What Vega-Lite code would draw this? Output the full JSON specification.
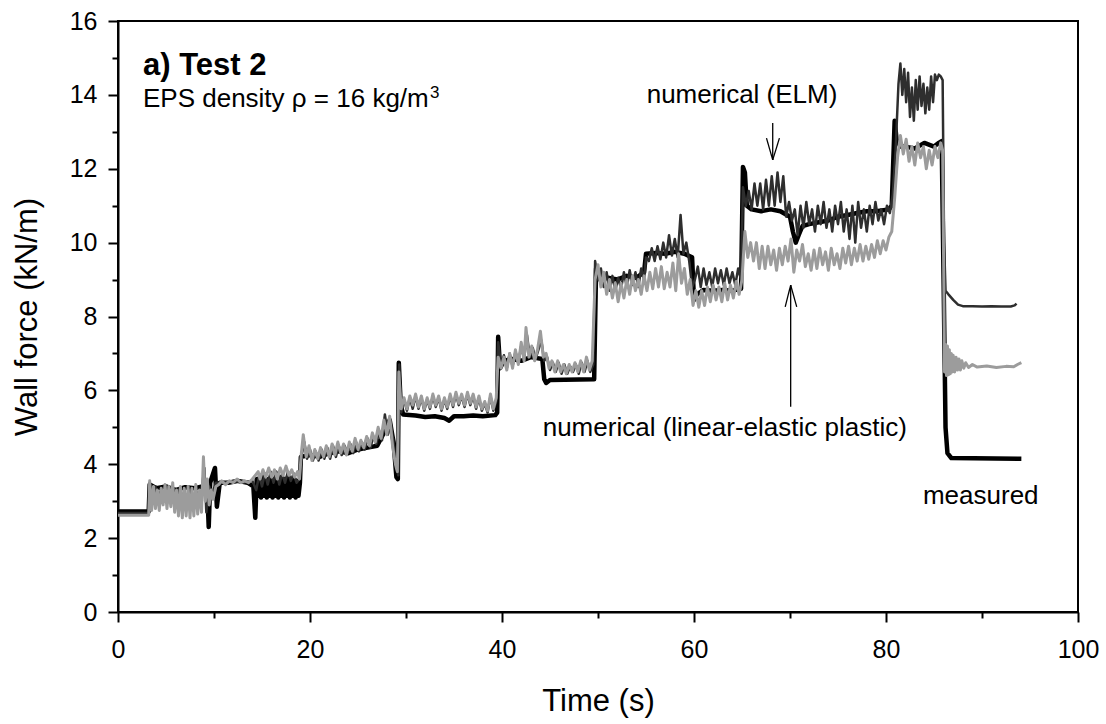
{
  "$schema": "https://vega.github.io/schema/vega-lite/v6.json",
  "width": 960,
  "height": 591,
  "autosize": "none",
  "padding": {"left": 118, "top": 21, "right": 28, "bottom": 112},
  "background": "white",
  "config": {
    "view": {"stroke": "#000", "strokeWidth": 2},
    "font": "Liberation Sans",
    "axis": {
      "grid": false,
      "domainColor": "#000",
      "domainWidth": 2,
      "tickColor": "#000",
      "tickWidth": 2,
      "labelColor": "#000",
      "labelFont": "Liberation Sans",
      "labelFontSize": 25,
      "labelOverlap": false,
      "labelFlush": false,
      "titleColor": "#000",
      "titleFont": "Liberation Sans",
      "titleFontSize": 31,
      "titleFontWeight": "normal"
    }
  },
  "datasets": {
    "measured": [
      {"t":0,"v":2.72},{"t":3.2,"v":2.72},{"t":3.3,"v":3.45},{"t":4,"v":3.35},{"t":5,"v":3.4},{"t":6,"v":3.3},{"t":7,"v":3.38},{"t":8,"v":3.35},{"t":8.8,"v":3.4},{"t":9.3,"v":3.3},{"t":9.45,"v":2.3},{"t":9.6,"v":3.5},{"t":10.1,"v":3.9},{"t":10.3,"v":2.85},{"t":10.6,"v":3.5},{"t":11.5,"v":3.5},{"t":12.5,"v":3.55},{"t":13.5,"v":3.5},{"t":14.1,"v":3.4},{"t":14.3,"v":2.55},{"t":14.45,"v":3.6},{"t":14.6,"v":3.15},{"t":14.75,"v":3.6},{"t":14.9,"v":3.1},{"t":15.05,"v":3.65},{"t":15.2,"v":3.15},{"t":15.35,"v":3.6},{"t":15.5,"v":3.1},{"t":15.65,"v":3.6},{"t":15.8,"v":3.15},{"t":15.95,"v":3.65},{"t":16.1,"v":3.1},{"t":16.25,"v":3.6},{"t":16.4,"v":3.15},{"t":16.55,"v":3.6},{"t":16.7,"v":3.1},{"t":16.85,"v":3.65},{"t":17.0,"v":3.15},{"t":17.15,"v":3.6},{"t":17.3,"v":3.1},{"t":17.45,"v":3.6},{"t":17.6,"v":3.15},{"t":17.75,"v":3.65},{"t":17.9,"v":3.1},{"t":18.05,"v":3.6},{"t":18.2,"v":3.15},{"t":18.35,"v":3.6},{"t":18.5,"v":3.1},{"t":18.65,"v":3.55},{"t":18.8,"v":3.15},{"t":18.95,"v":3.5},{"t":19.05,"v":4.2},{"t":20,"v":4.25},{"t":21,"v":4.2},{"t":22,"v":4.3},{"t":23,"v":4.35},{"t":24,"v":4.3},{"t":25,"v":4.4},{"t":26,"v":4.45},{"t":27,"v":4.5},{"t":27.8,"v":4.9},{"t":28.3,"v":5.2},{"t":28.7,"v":4.6},{"t":29.0,"v":3.65},{"t":29.15,"v":3.6},{"t":29.25,"v":6.75},{"t":29.45,"v":5.6},{"t":29.7,"v":5.35},{"t":31,"v":5.32},{"t":32,"v":5.28},{"t":33,"v":5.3},{"t":34,"v":5.25},{"t":34.5,"v":5.18},{"t":35,"v":5.3},{"t":36,"v":5.3},{"t":37,"v":5.32},{"t":38,"v":5.3},{"t":39.3,"v":5.33},{"t":39.5,"v":5.4},{"t":39.6,"v":7.45},{"t":39.8,"v":6.6},{"t":40.2,"v":6.8},{"t":41,"v":6.85},{"t":42,"v":6.8},{"t":43,"v":6.9},{"t":44.2,"v":6.85},{"t":44.4,"v":6.3},{"t":44.6,"v":6.2},{"t":45,"v":6.28},{"t":49.6,"v":6.3},{"t":49.8,"v":9.3},{"t":50.2,"v":9.0},{"t":51,"v":9.05},{"t":52,"v":9.0},{"t":53,"v":9.1},{"t":54,"v":9.05},{"t":54.8,"v":9.2},{"t":55.0,"v":9.7},{"t":56,"v":9.72},{"t":57,"v":9.7},{"t":58,"v":9.75},{"t":59,"v":9.7},{"t":59.8,"v":9.6},{"t":60.0,"v":8.45},{"t":60.3,"v":8.6},{"t":61,"v":8.72},{"t":62,"v":8.7},{"t":63,"v":8.72},{"t":64,"v":8.7},{"t":64.9,"v":8.75},{"t":65.1,"v":12.05},{"t":65.3,"v":11.9},{"t":65.5,"v":11.0},{"t":66,"v":10.9},{"t":67,"v":10.85},{"t":68,"v":10.9},{"t":69,"v":10.85},{"t":70,"v":10.7},{"t":70.3,"v":10.3},{"t":70.6,"v":10.0},{"t":70.9,"v":10.2},{"t":71.3,"v":10.45},{"t":72,"v":10.5},{"t":73,"v":10.55},{"t":74,"v":10.6},{"t":75,"v":10.7},{"t":76,"v":10.75},{"t":77,"v":10.8},{"t":78,"v":10.85},{"t":79,"v":10.85},{"t":80.3,"v":10.9},{"t":80.6,"v":11.0},{"t":80.9,"v":13.3},{"t":81.1,"v":12.8},{"t":81.5,"v":12.6},{"t":82,"v":12.6},{"t":83,"v":12.55},{"t":84,"v":12.7},{"t":85,"v":12.6},{"t":85.5,"v":12.7},{"t":85.8,"v":12.75},{"t":86.0,"v":9.0},{"t":86.2,"v":5.0},{"t":86.4,"v":4.3},{"t":86.8,"v":4.17},{"t":94.1,"v":4.15}
    ],
    "elm": [
      {"t":0,"v":2.68},{"t":3.2,"v":2.68},{"t":3.3,"v":3.5},{"t":3.6,"v":3.0},{"t":3.9,"v":3.4},{"t":4.2,"v":2.95},{"t":4.5,"v":3.35},{"t":4.8,"v":3.0},{"t":5.1,"v":3.4},{"t":5.4,"v":2.95},{"t":5.7,"v":3.4},{"t":6.0,"v":2.9},{"t":6.3,"v":3.3},{"t":6.6,"v":2.85},{"t":6.9,"v":3.3},{"t":7.2,"v":2.9},{"t":7.5,"v":3.3},{"t":7.8,"v":2.85},{"t":8.1,"v":3.35},{"t":8.4,"v":2.9},{"t":8.7,"v":3.3},{"t":9.0,"v":3.9},{"t":9.2,"v":2.7},{"t":9.5,"v":3.4},{"t":9.8,"v":3.2},{"t":10.2,"v":3.5},{"t":11,"v":3.5},{"t":12,"v":3.55},{"t":13,"v":3.5},{"t":14,"v":3.55},{"t":14.4,"v":3.3},{"t":14.7,"v":3.7},{"t":15.0,"v":3.4},{"t":15.3,"v":3.75},{"t":15.6,"v":3.45},{"t":15.9,"v":3.8},{"t":16.2,"v":3.5},{"t":16.5,"v":3.8},{"t":16.8,"v":3.45},{"t":17.1,"v":3.75},{"t":17.4,"v":3.5},{"t":17.7,"v":3.8},{"t":18.0,"v":3.55},{"t":18.3,"v":3.75},{"t":18.6,"v":3.5},{"t":18.9,"v":3.6},{"t":19.1,"v":4.2},{"t":19.4,"v":4.6},{"t":19.7,"v":4.15},{"t":20.0,"v":4.4},{"t":20.3,"v":4.1},{"t":20.6,"v":4.35},{"t":20.9,"v":4.1},{"t":21.2,"v":4.4},{"t":21.5,"v":4.15},{"t":21.8,"v":4.45},{"t":22.1,"v":4.15},{"t":22.4,"v":4.5},{"t":22.7,"v":4.2},{"t":23.0,"v":4.5},{"t":23.3,"v":4.25},{"t":23.6,"v":4.5},{"t":23.9,"v":4.3},{"t":24.2,"v":4.55},{"t":24.5,"v":4.3},{"t":24.8,"v":4.6},{"t":25.1,"v":4.35},{"t":25.4,"v":4.6},{"t":25.7,"v":4.4},{"t":26.0,"v":4.7},{"t":26.3,"v":4.45},{"t":26.6,"v":4.75},{"t":26.9,"v":4.55},{"t":27.2,"v":4.9},{"t":27.5,"v":4.65},{"t":27.8,"v":5.35},{"t":28.1,"v":4.8},{"t":28.4,"v":5.1},{"t":28.7,"v":4.6},{"t":29.0,"v":3.9},{"t":29.2,"v":3.7},{"t":29.3,"v":6.7},{"t":29.5,"v":5.4},{"t":29.8,"v":5.75},{"t":30.1,"v":5.45},{"t":30.4,"v":5.8},{"t":30.7,"v":5.5},{"t":31.0,"v":5.85},{"t":31.3,"v":5.5},{"t":31.6,"v":5.8},{"t":31.9,"v":5.45},{"t":32.2,"v":5.75},{"t":32.5,"v":5.5},{"t":32.8,"v":5.85},{"t":33.1,"v":5.55},{"t":33.4,"v":5.8},{"t":33.7,"v":5.45},{"t":34.0,"v":5.75},{"t":34.3,"v":5.5},{"t":34.6,"v":5.85},{"t":34.9,"v":5.55},{"t":35.2,"v":5.9},{"t":35.5,"v":5.6},{"t":35.8,"v":5.85},{"t":36.1,"v":5.55},{"t":36.4,"v":5.9},{"t":36.7,"v":5.6},{"t":37.0,"v":5.85},{"t":37.3,"v":5.5},{"t":37.6,"v":5.8},{"t":37.9,"v":5.45},{"t":38.2,"v":5.65},{"t":38.5,"v":5.4},{"t":38.8,"v":5.85},{"t":39.1,"v":5.45},{"t":39.4,"v":5.7},{"t":39.6,"v":7.3},{"t":39.9,"v":6.7},{"t":40.2,"v":6.95},{"t":40.5,"v":6.6},{"t":40.8,"v":7.0},{"t":41.1,"v":6.65},{"t":41.4,"v":7.05},{"t":41.7,"v":6.75},{"t":42.0,"v":7.2},{"t":42.3,"v":6.85},{"t":42.6,"v":7.5},{"t":42.9,"v":6.9},{"t":43.2,"v":7.15},{"t":43.5,"v":6.85},{"t":43.8,"v":7.1},{"t":44.1,"v":7.35},{"t":44.4,"v":6.8},{"t":44.7,"v":6.9},{"t":45.0,"v":6.55},{"t":45.3,"v":6.75},{"t":45.6,"v":6.5},{"t":45.9,"v":6.75},{"t":46.2,"v":6.45},{"t":46.5,"v":6.7},{"t":46.8,"v":6.45},{"t":47.1,"v":6.65},{"t":47.4,"v":6.5},{"t":47.7,"v":6.7},{"t":48.0,"v":6.45},{"t":48.3,"v":6.75},{"t":48.6,"v":6.5},{"t":48.9,"v":6.8},{"t":49.2,"v":6.5},{"t":49.5,"v":6.7},{"t":49.7,"v":9.5},{"t":50.0,"v":9.0},{"t":50.3,"v":9.3},{"t":50.6,"v":8.8},{"t":50.9,"v":9.2},{"t":51.2,"v":8.7},{"t":51.5,"v":9.1},{"t":51.8,"v":8.7},{"t":52.1,"v":9.05},{"t":52.4,"v":8.75},{"t":52.7,"v":9.2},{"t":53.0,"v":8.8},{"t":53.3,"v":9.25},{"t":53.6,"v":8.85},{"t":53.9,"v":9.2},{"t":54.2,"v":8.8},{"t":54.5,"v":9.3},{"t":54.8,"v":9.0},{"t":55.0,"v":9.6},{"t":55.3,"v":9.5},{"t":55.6,"v":9.85},{"t":55.9,"v":9.5},{"t":56.2,"v":9.9},{"t":56.5,"v":9.55},{"t":56.8,"v":10.0},{"t":57.1,"v":9.6},{"t":57.4,"v":10.2},{"t":57.7,"v":9.65},{"t":58.0,"v":10.1},{"t":58.3,"v":9.6},{"t":58.6,"v":10.75},{"t":58.9,"v":9.7},{"t":59.2,"v":10.0},{"t":59.5,"v":9.5},{"t":59.8,"v":8.8},{"t":60.1,"v":9.0},{"t":60.4,"v":9.35},{"t":60.7,"v":8.8},{"t":61.0,"v":9.3},{"t":61.3,"v":8.85},{"t":61.6,"v":9.2},{"t":61.9,"v":8.8},{"t":62.2,"v":9.3},{"t":62.5,"v":8.9},{"t":62.8,"v":9.25},{"t":63.1,"v":8.85},{"t":63.4,"v":9.3},{"t":63.7,"v":8.9},{"t":64.0,"v":9.2},{"t":64.3,"v":8.85},{"t":64.6,"v":9.3},{"t":64.9,"v":9.0},{"t":65.1,"v":11.5},{"t":65.4,"v":11.0},{"t":65.7,"v":11.4},{"t":66.0,"v":10.9},{"t":66.3,"v":11.6},{"t":66.6,"v":11.0},{"t":66.9,"v":11.6},{"t":67.2,"v":10.9},{"t":67.5,"v":11.7},{"t":67.8,"v":11.0},{"t":68.1,"v":11.8},{"t":68.4,"v":11.0},{"t":68.7,"v":11.9},{"t":69.0,"v":11.1},{"t":69.3,"v":11.8},{"t":69.6,"v":10.7},{"t":69.9,"v":11.1},{"t":70.2,"v":10.6},{"t":70.5,"v":10.9},{"t":70.8,"v":10.2},{"t":71.1,"v":11.0},{"t":71.4,"v":10.4},{"t":71.7,"v":11.1},{"t":72.0,"v":10.5},{"t":72.3,"v":10.9},{"t":72.6,"v":10.3},{"t":72.9,"v":11.0},{"t":73.2,"v":10.5},{"t":73.5,"v":11.1},{"t":73.8,"v":10.4},{"t":74.1,"v":10.9},{"t":74.4,"v":10.3},{"t":74.7,"v":11.0},{"t":75.0,"v":10.5},{"t":75.3,"v":11.1},{"t":75.6,"v":10.3},{"t":75.9,"v":10.9},{"t":76.2,"v":10.1},{"t":76.5,"v":11.0},{"t":76.8,"v":10.0},{"t":77.1,"v":11.1},{"t":77.4,"v":10.4},{"t":77.7,"v":10.9},{"t":78.0,"v":10.3},{"t":78.3,"v":11.0},{"t":78.6,"v":10.5},{"t":78.9,"v":11.1},{"t":79.2,"v":10.6},{"t":79.5,"v":10.9},{"t":79.8,"v":10.5},{"t":80.1,"v":11.0},{"t":80.4,"v":10.8},{"t":80.7,"v":11.3},{"t":81.0,"v":12.5},{"t":81.3,"v":14.3},{"t":81.5,"v":14.85},{"t":81.7,"v":14.0},{"t":81.9,"v":14.7},{"t":82.1,"v":13.8},{"t":82.3,"v":14.6},{"t":82.5,"v":13.4},{"t":82.7,"v":14.2},{"t":82.9,"v":13.3},{"t":83.1,"v":14.4},{"t":83.3,"v":13.6},{"t":83.5,"v":14.5},{"t":83.7,"v":13.7},{"t":83.9,"v":14.3},{"t":84.1,"v":13.5},{"t":84.3,"v":14.2},{"t":84.5,"v":13.6},{"t":84.7,"v":14.5},{"t":84.9,"v":13.8},{"t":85.1,"v":14.55},{"t":85.3,"v":14.4},{"t":85.5,"v":14.55},{"t":85.7,"v":14.5},{"t":85.9,"v":14.4},{"t":86.05,"v":10.0},{"t":86.2,"v":8.7},{"t":86.5,"v":8.6},{"t":87.0,"v":8.45},{"t":87.5,"v":8.32},{"t":88,"v":8.28},{"t":89,"v":8.28},{"t":90,"v":8.27},{"t":91,"v":8.28},{"t":92,"v":8.27},{"t":93,"v":8.27},{"t":93.4,"v":8.3},{"t":93.6,"v":8.35}
    ],
    "lep": [
      {"t":0,"v":2.62},{"t":3.2,"v":2.62},{"t":3.3,"v":3.55},{"t":3.5,"v":2.75},{"t":3.7,"v":3.4},{"t":3.9,"v":2.8},{"t":4.1,"v":3.3},{"t":4.3,"v":2.75},{"t":4.5,"v":3.35},{"t":4.7,"v":2.9},{"t":4.9,"v":3.45},{"t":5.1,"v":2.8},{"t":5.3,"v":3.4},{"t":5.5,"v":2.85},{"t":5.7,"v":3.5},{"t":5.9,"v":2.7},{"t":6.1,"v":3.3},{"t":6.3,"v":2.6},{"t":6.5,"v":3.4},{"t":6.7,"v":2.55},{"t":6.9,"v":3.35},{"t":7.1,"v":2.6},{"t":7.3,"v":3.4},{"t":7.5,"v":2.55},{"t":7.7,"v":3.35},{"t":7.9,"v":2.6},{"t":8.1,"v":3.45},{"t":8.3,"v":2.65},{"t":8.5,"v":3.3},{"t":8.7,"v":2.7},{"t":8.9,"v":4.2},{"t":9.1,"v":3.0},{"t":9.3,"v":3.6},{"t":9.5,"v":2.9},{"t":9.7,"v":3.3},{"t":9.9,"v":3.05},{"t":10.2,"v":3.4},{"t":10.5,"v":3.45},{"t":10.8,"v":3.55},{"t":11.2,"v":3.45},{"t":11.6,"v":3.55},{"t":12.0,"v":3.5},{"t":12.4,"v":3.6},{"t":12.8,"v":3.5},{"t":13.2,"v":3.55},{"t":13.6,"v":3.5},{"t":14.0,"v":3.6},{"t":14.3,"v":3.7},{"t":14.6,"v":3.8},{"t":14.8,"v":3.6},{"t":15.1,"v":3.85},{"t":15.4,"v":3.65},{"t":15.7,"v":3.9},{"t":16.0,"v":3.65},{"t":16.3,"v":3.85},{"t":16.6,"v":3.6},{"t":16.9,"v":3.9},{"t":17.2,"v":3.7},{"t":17.5,"v":3.95},{"t":17.8,"v":3.7},{"t":18.1,"v":3.85},{"t":18.4,"v":3.65},{"t":18.7,"v":3.8},{"t":18.9,"v":3.6},{"t":19.1,"v":4.3},{"t":19.3,"v":4.8},{"t":19.6,"v":4.2},{"t":19.9,"v":4.5},{"t":20.2,"v":4.1},{"t":20.5,"v":4.4},{"t":20.8,"v":4.15},{"t":21.1,"v":4.45},{"t":21.4,"v":4.2},{"t":21.7,"v":4.5},{"t":22.0,"v":4.2},{"t":22.3,"v":4.55},{"t":22.6,"v":4.25},{"t":22.9,"v":4.6},{"t":23.2,"v":4.3},{"t":23.5,"v":4.55},{"t":23.8,"v":4.25},{"t":24.1,"v":4.6},{"t":24.4,"v":4.35},{"t":24.7,"v":4.7},{"t":25.0,"v":4.4},{"t":25.3,"v":4.65},{"t":25.6,"v":4.45},{"t":25.9,"v":4.75},{"t":26.2,"v":4.5},{"t":26.5,"v":4.85},{"t":26.8,"v":4.6},{"t":27.1,"v":5.0},{"t":27.4,"v":4.7},{"t":27.7,"v":5.2},{"t":28.0,"v":4.8},{"t":28.3,"v":5.3},{"t":28.6,"v":4.5},{"t":28.9,"v":4.0},{"t":29.1,"v":3.8},{"t":29.25,"v":6.5},{"t":29.5,"v":5.5},{"t":29.8,"v":5.8},{"t":30.1,"v":5.5},{"t":30.4,"v":5.85},{"t":30.7,"v":5.6},{"t":31.0,"v":5.9},{"t":31.3,"v":5.55},{"t":31.6,"v":5.85},{"t":31.9,"v":5.5},{"t":32.2,"v":5.8},{"t":32.5,"v":5.55},{"t":32.8,"v":5.9},{"t":33.1,"v":5.6},{"t":33.4,"v":5.85},{"t":33.7,"v":5.5},{"t":34.0,"v":5.8},{"t":34.3,"v":5.55},{"t":34.6,"v":5.9},{"t":34.9,"v":5.6},{"t":35.2,"v":5.95},{"t":35.5,"v":5.65},{"t":35.8,"v":5.9},{"t":36.1,"v":5.6},{"t":36.4,"v":5.95},{"t":36.7,"v":5.65},{"t":37.0,"v":5.9},{"t":37.3,"v":5.55},{"t":37.6,"v":5.85},{"t":37.9,"v":5.5},{"t":38.2,"v":5.7},{"t":38.5,"v":5.45},{"t":38.8,"v":5.9},{"t":39.1,"v":5.5},{"t":39.4,"v":5.8},{"t":39.6,"v":6.9},{"t":39.9,"v":6.6},{"t":40.2,"v":6.9},{"t":40.5,"v":6.55},{"t":40.8,"v":7.0},{"t":41.1,"v":6.6},{"t":41.4,"v":7.1},{"t":41.7,"v":6.7},{"t":42.0,"v":7.3},{"t":42.3,"v":6.8},{"t":42.5,"v":7.7},{"t":42.8,"v":6.9},{"t":43.1,"v":7.2},{"t":43.4,"v":6.8},{"t":43.7,"v":7.1},{"t":44.0,"v":7.6},{"t":44.3,"v":6.9},{"t":44.6,"v":7.0},{"t":44.9,"v":6.6},{"t":45.2,"v":6.8},{"t":45.5,"v":6.5},{"t":45.8,"v":6.8},{"t":46.1,"v":6.5},{"t":46.4,"v":6.7},{"t":46.7,"v":6.45},{"t":47.0,"v":6.7},{"t":47.3,"v":6.5},{"t":47.6,"v":6.75},{"t":47.9,"v":6.5},{"t":48.2,"v":6.8},{"t":48.5,"v":6.5},{"t":48.8,"v":6.9},{"t":49.1,"v":6.55},{"t":49.4,"v":6.8},{"t":49.7,"v":9.0},{"t":50.0,"v":9.4},{"t":50.3,"v":8.8},{"t":50.6,"v":9.2},{"t":50.9,"v":8.6},{"t":51.2,"v":9.0},{"t":51.5,"v":8.5},{"t":51.8,"v":8.9},{"t":52.1,"v":8.4},{"t":52.4,"v":8.9},{"t":52.7,"v":8.5},{"t":53.0,"v":9.0},{"t":53.3,"v":8.6},{"t":53.6,"v":9.1},{"t":53.9,"v":8.7},{"t":54.2,"v":9.0},{"t":54.5,"v":8.6},{"t":54.8,"v":9.1},{"t":55.1,"v":8.7},{"t":55.4,"v":9.2},{"t":55.7,"v":8.75},{"t":56.0,"v":9.3},{"t":56.3,"v":8.8},{"t":56.6,"v":9.35},{"t":56.9,"v":8.75},{"t":57.2,"v":9.2},{"t":57.5,"v":8.8},{"t":57.8,"v":9.45},{"t":58.1,"v":8.7},{"t":58.4,"v":9.7},{"t":58.7,"v":8.9},{"t":59.0,"v":9.3},{"t":59.3,"v":8.6},{"t":59.6,"v":9.0},{"t":59.9,"v":8.3},{"t":60.2,"v":8.7},{"t":60.5,"v":8.25},{"t":60.8,"v":8.7},{"t":61.1,"v":8.3},{"t":61.4,"v":8.8},{"t":61.7,"v":8.4},{"t":62.0,"v":8.85},{"t":62.3,"v":8.45},{"t":62.6,"v":8.8},{"t":62.9,"v":8.4},{"t":63.2,"v":8.9},{"t":63.5,"v":8.45},{"t":63.8,"v":8.85},{"t":64.1,"v":8.5},{"t":64.4,"v":8.95},{"t":64.7,"v":8.6},{"t":65.0,"v":9.0},{"t":65.3,"v":10.3},{"t":65.6,"v":9.6},{"t":65.9,"v":10.0},{"t":66.2,"v":9.5},{"t":66.5,"v":10.0},{"t":66.8,"v":9.3},{"t":67.1,"v":9.9},{"t":67.4,"v":9.3},{"t":67.7,"v":9.9},{"t":68.0,"v":9.4},{"t":68.3,"v":9.8},{"t":68.6,"v":9.25},{"t":68.9,"v":9.85},{"t":69.2,"v":9.4},{"t":69.5,"v":9.9},{"t":69.8,"v":9.5},{"t":70.1,"v":10.1},{"t":70.4,"v":9.2},{"t":70.7,"v":9.8},{"t":71.0,"v":9.5},{"t":71.3,"v":9.95},{"t":71.6,"v":9.35},{"t":71.9,"v":9.7},{"t":72.2,"v":9.25},{"t":72.5,"v":9.8},{"t":72.8,"v":9.3},{"t":73.1,"v":9.85},{"t":73.4,"v":9.4},{"t":73.7,"v":9.75},{"t":74.0,"v":9.25},{"t":74.3,"v":9.85},{"t":74.6,"v":9.4},{"t":74.9,"v":9.7},{"t":75.2,"v":9.3},{"t":75.5,"v":9.85},{"t":75.8,"v":9.45},{"t":76.1,"v":9.9},{"t":76.4,"v":9.4},{"t":76.7,"v":9.85},{"t":77.0,"v":9.5},{"t":77.3,"v":9.95},{"t":77.6,"v":9.5},{"t":77.9,"v":9.9},{"t":78.2,"v":9.55},{"t":78.5,"v":9.95},{"t":78.8,"v":9.6},{"t":79.1,"v":10.05},{"t":79.4,"v":9.7},{"t":79.7,"v":10.05},{"t":80.0,"v":9.8},{"t":80.3,"v":10.15},{"t":80.6,"v":10.3},{"t":80.9,"v":11.2},{"t":81.2,"v":12.3},{"t":81.5,"v":12.9},{"t":81.8,"v":12.4},{"t":82.1,"v":12.8},{"t":82.4,"v":12.2},{"t":82.7,"v":12.6},{"t":83.0,"v":12.1},{"t":83.3,"v":12.7},{"t":83.6,"v":12.3},{"t":83.9,"v":12.6},{"t":84.2,"v":12.0},{"t":84.5,"v":12.5},{"t":84.8,"v":12.1},{"t":85.1,"v":12.6},{"t":85.4,"v":12.3},{"t":85.7,"v":12.7},{"t":85.9,"v":12.5},{"t":86.0,"v":9.5},{"t":86.1,"v":6.5},{"t":86.2,"v":7.25},{"t":86.3,"v":6.4},{"t":86.4,"v":7.2},{"t":86.5,"v":6.42},{"t":86.6,"v":7.1},{"t":86.7,"v":6.45},{"t":86.8,"v":7.0},{"t":86.9,"v":6.5},{"t":87.0,"v":6.95},{"t":87.15,"v":6.5},{"t":87.3,"v":6.9},{"t":87.45,"v":6.55},{"t":87.6,"v":6.85},{"t":87.75,"v":6.55},{"t":87.9,"v":6.8},{"t":88.1,"v":6.6},{"t":88.3,"v":6.75},{"t":88.6,"v":6.62},{"t":89.0,"v":6.7},{"t":89.5,"v":6.63},{"t":90.5,"v":6.66},{"t":91.5,"v":6.62},{"t":92.5,"v":6.65},{"t":93.3,"v":6.64},{"t":93.7,"v":6.7},{"t":94.1,"v":6.75}
    ],
    "arrows": [
      {"t":68.2,"v":13.24,"t2":68.2,"v2":12.24},
      {"t":67.55,"v":12.83,"t2":68.2,"v2":12.24},
      {"t":68.9,"v":12.83,"t2":68.2,"v2":12.24},
      {"t":70.07,"v":5.56,"t2":70.07,"v2":8.85},
      {"t":69.5,"v":8.26,"t2":70.07,"v2":8.85},
      {"t":70.7,"v":8.26,"t2":70.07,"v2":8.85}
    ],
    "labels": [
      {"t":2.6,"v":13.68,"label":"EPS density ρ = 16 kg/m"},
      {"t":55.07,"v":13.79,"label":"numerical (ELM)"},
      {"t":44.24,"v":4.76,"label":"numerical (linear-elastic plastic)"},
      {"t":83.85,"v":2.92,"label":"measured"}
    ],
    "title": [
      {"t":2.6,"v":14.54,"label":"a) Test 2"}
    ],
    "sup": [
      {"t":32.5,"v":13.91,"label":"3"}
    ]
  },
  "encoding": {
    "x": {
      "field": "t",
      "type": "quantitative",
      "scale": {"domain": [0, 100], "nice": false, "zero": false},
      "axis": {
        "title": "Time (s)",
        "values": [0, 10, 20, 30, 40, 50, 60, 70, 80, 90, 100],
        "labelExpr": "datum.value % 20 == 0 ? datum.label : ''",
        "tickSize": {"condition": {"test": "datum.value % 20 == 0", "value": 10}, "value": 6},
        "labelPadding": 15,
        "titlePadding": 24
      }
    },
    "y": {
      "field": "v",
      "type": "quantitative",
      "scale": {"domain": [0, 16], "nice": false, "zero": false},
      "axis": {
        "title": "Wall force (kN/m)",
        "values": [0, 1, 2, 3, 4, 5, 6, 7, 8, 9, 10, 11, 12, 13, 14, 15, 16],
        "labelExpr": "datum.value % 2 == 0 ? datum.label : ''",
        "tickSize": {"condition": {"test": "datum.value % 2 == 0", "value": 10}, "value": 6},
        "labelPadding": 11,
        "titlePadding": 26
      }
    }
  },
  "layer": [
    {
      "data": {"name": "measured"},
      "mark": {"type": "line", "color": "#000000", "strokeWidth": 4.5, "strokeJoin": "round"}
    },
    {
      "data": {"name": "elm"},
      "mark": {"type": "line", "color": "#2e2e2e", "strokeWidth": 2.5, "strokeJoin": "round"}
    },
    {
      "data": {"name": "lep"},
      "mark": {"type": "line", "color": "#9c9c9c", "strokeWidth": 3, "strokeJoin": "round"}
    },
    {
      "data": {"name": "arrows"},
      "mark": {"type": "rule", "color": "#000000", "strokeWidth": 1.3},
      "encoding": {
        "x2": {"field": "t2"},
        "y2": {"field": "v2"}
      }
    },
    {
      "data": {"name": "labels"},
      "mark": {"type": "text", "align": "left", "baseline": "alphabetic", "fontSize": 26, "font": "Liberation Sans", "color": "#000000"},
      "encoding": {"text": {"field": "label"}}
    },
    {
      "data": {"name": "title"},
      "mark": {"type": "text", "align": "left", "baseline": "alphabetic", "fontSize": 31, "fontWeight": "bold", "font": "Liberation Sans", "color": "#000000"},
      "encoding": {"text": {"field": "label"}}
    },
    {
      "data": {"name": "sup"},
      "mark": {"type": "text", "align": "left", "baseline": "alphabetic", "fontSize": 17, "font": "Liberation Sans", "color": "#000000"},
      "encoding": {"text": {"field": "label"}}
    }
  ]
}
